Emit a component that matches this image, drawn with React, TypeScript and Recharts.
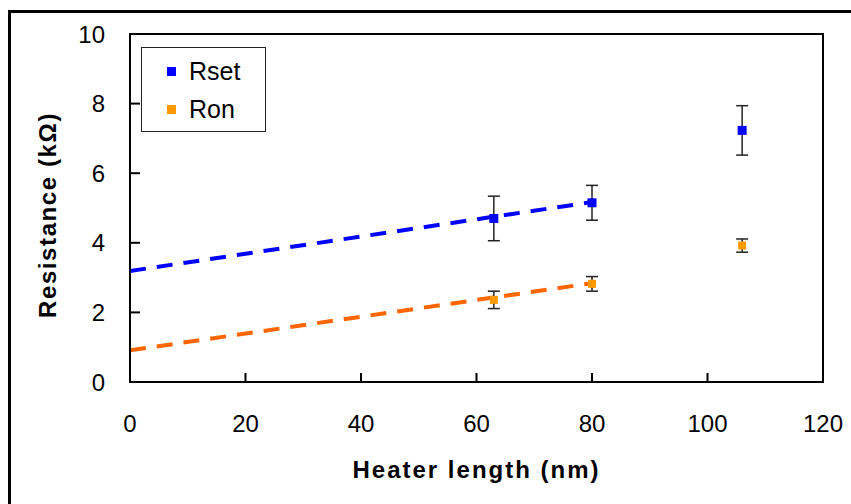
import React from 'react';
import {
  ComposedChart,
  Scatter,
  Line,
  XAxis,
  YAxis,
  ErrorBar,
  ReferenceArea,
} from 'recharts';

// ── Data ─────────────────────────────────────────────────────────────────────

const heaterLengths = [63, 80, 106];
const rsetValues = [4.7, 5.15, 7.23];
const rsetErrors = [0.64, 0.5, 0.71];
const ronValues = [2.36, 2.82, 3.92];
const ronErrors = [0.25, 0.21, 0.19];

// dashed trend lines, start and end points
const fitX = [0, 80];
const rsetFitY = [3.19, 5.17];
const ronFitY = [0.91, 2.84];

const xTicks = [0, 20, 40, 60, 80, 100, 120];
const yTicks = [0, 2, 4, 6, 8, 10];

const seriesNames = ['Rset', 'Ron'];
const seriesColors = ['#0000FF', '#FF9900'];

const rsetData = heaterLengths.map((x, i) => ({ x, y: rsetValues[i], err: rsetErrors[i] }));
const ronData = heaterLengths.map((x, i) => ({ x, y: ronValues[i], err: ronErrors[i] }));
const rsetFit = fitX.map((x, i) => ({ x, y: rsetFitY[i] }));
const ronFit = fitX.map((x, i) => ({ x, y: ronFitY[i] }));

const FONT = 'Arial, "Liberation Sans", sans-serif';

// ── Pieces ───────────────────────────────────────────────────────────────────

function square(color: string, size: number) {
  return (props: any) => (
    <rect x={props.cx - size / 2} y={props.cy - size / 2} width={size} height={size} fill={color} />
  );
}

function XTick({ x, y, payload }: any) {
  return (
    <g>
      <line x1={x} y1={y} x2={x} y2={y - 9} stroke="#000" strokeWidth={2} />
      <text x={x} y={y + 41} textAnchor="middle" dominantBaseline="central" fontSize={24} fontFamily={FONT} fill="#000">
        {payload.value}
      </text>
    </g>
  );
}

function YTick({ x, y, payload }: any) {
  return (
    <g>
      <line x1={x} y1={y} x2={x + 10} y2={y} stroke="#000" strokeWidth={2} />
      <text x={x - 25} y={y} textAnchor="end" dominantBaseline="central" fontSize={24} fontFamily={FONT} fill="#000">
        {payload.value}
      </text>
    </g>
  );
}

function LegendBox() {
  return (
    <div
      style={{
        position: 'absolute',
        left: 141,
        top: 47,
        width: 123,
        height: 83,
        border: '1px solid #222',
        background: '#fff',
        fontFamily: FONT,
        zIndex: 2,
      }}
    >
      {seriesNames.map((name, i) => (
        <div key={name} style={{ position: 'absolute', left: 0, top: 9 + i * 38, height: 28, display: 'flex', alignItems: 'center' }}>
          <span style={{ display: 'inline-block', width: 9, height: 9, background: seriesColors[i], marginLeft: 25 }} />
          <span style={{ fontSize: 25, marginLeft: 13, color: '#000', lineHeight: '28px' }}>{name}</span>
        </div>
      ))}
    </div>
  );
}

// ── Chart ────────────────────────────────────────────────────────────────────

export default function App() {
  return (
    <div style={{ position: 'absolute', left: 0, top: 0, width: 851, height: 504, background: '#fff', overflow: 'hidden' }}>
      <div
        style={{
          position: 'absolute',
          left: 8,
          top: 10,
          width: 851,
          height: 520,
          border: '3px solid #000',
          boxSizing: 'border-box',
        }}
      />
      <ComposedChart
        width={851}
        height={504}
        margin={{ top: 34, right: 28, bottom: 62, left: 0 }}
        style={{ position: 'absolute', left: 0, top: 0 }}
      >
        <XAxis
          dataKey="x"
          type="number"
          domain={[0, 120]}
          ticks={xTicks}
          interval={0}
          height={60}
          tickSize={0}
          tickMargin={0}
          tickLine={false}
          axisLine={{ stroke: '#000', strokeWidth: 2 }}
          tick={<XTick />}
          allowDataOverflow
          label={{
            value: 'Heater length (nm)',
            position: 'center',
            dy: 57,
            fontSize: 24,
            letterSpacing: 2,
            fontWeight: 'bold',
            fontFamily: FONT,
            fill: '#000',
          }}
        />
        <YAxis
          dataKey="y"
          type="number"
          domain={[0, 10]}
          ticks={yTicks}
          interval={0}
          width={130}
          tickSize={0}
          tickMargin={0}
          tickLine={false}
          axisLine={{ stroke: '#000', strokeWidth: 2 }}
          tick={<YTick />}
          allowDataOverflow
          label={{
            value: 'Resistance (kΩ)',
            position: 'center',
            angle: -90,
            dx: -18,
            dy: 7,
            fontSize: 24,
            letterSpacing: 1.6,
            fontWeight: 'bold',
            fontFamily: FONT,
            fill: '#000',
          }}
        />

        {/* plot frame */}
        <ReferenceArea x1={0} x2={120} y1={0} y2={10} fill="none" stroke="#000" strokeWidth={2} />

        {/* trend lines */}
        <Line
          data={rsetFit}
          dataKey="y"
          stroke="#0000FF"
          strokeWidth={4}
          strokeDasharray="16 11"
          dot={false}
          activeDot={false}
          isAnimationActive={false}
        />
        <Line
          data={ronFit}
          dataKey="y"
          stroke="#FF6600"
          strokeWidth={4}
          strokeDasharray="16 11"
          dot={false}
          activeDot={false}
          isAnimationActive={false}
        />

        <Scatter name="Rset" data={rsetData} dataKey="y" fill={seriesColors[0]} shape={square(seriesColors[0], 9)} isAnimationActive={false}>
          <ErrorBar dataKey="err" direction="y" width={6} stroke="#222" strokeWidth={1.5} />
        </Scatter>
        <Scatter name="Ron" data={ronData} dataKey="y" fill={seriesColors[1]} shape={square(seriesColors[1], 8)} isAnimationActive={false}>
          <ErrorBar dataKey="err" direction="y" width={6} stroke="#222" strokeWidth={1.5} />
        </Scatter>
      </ComposedChart>
      <LegendBox />
    </div>
  );
}
